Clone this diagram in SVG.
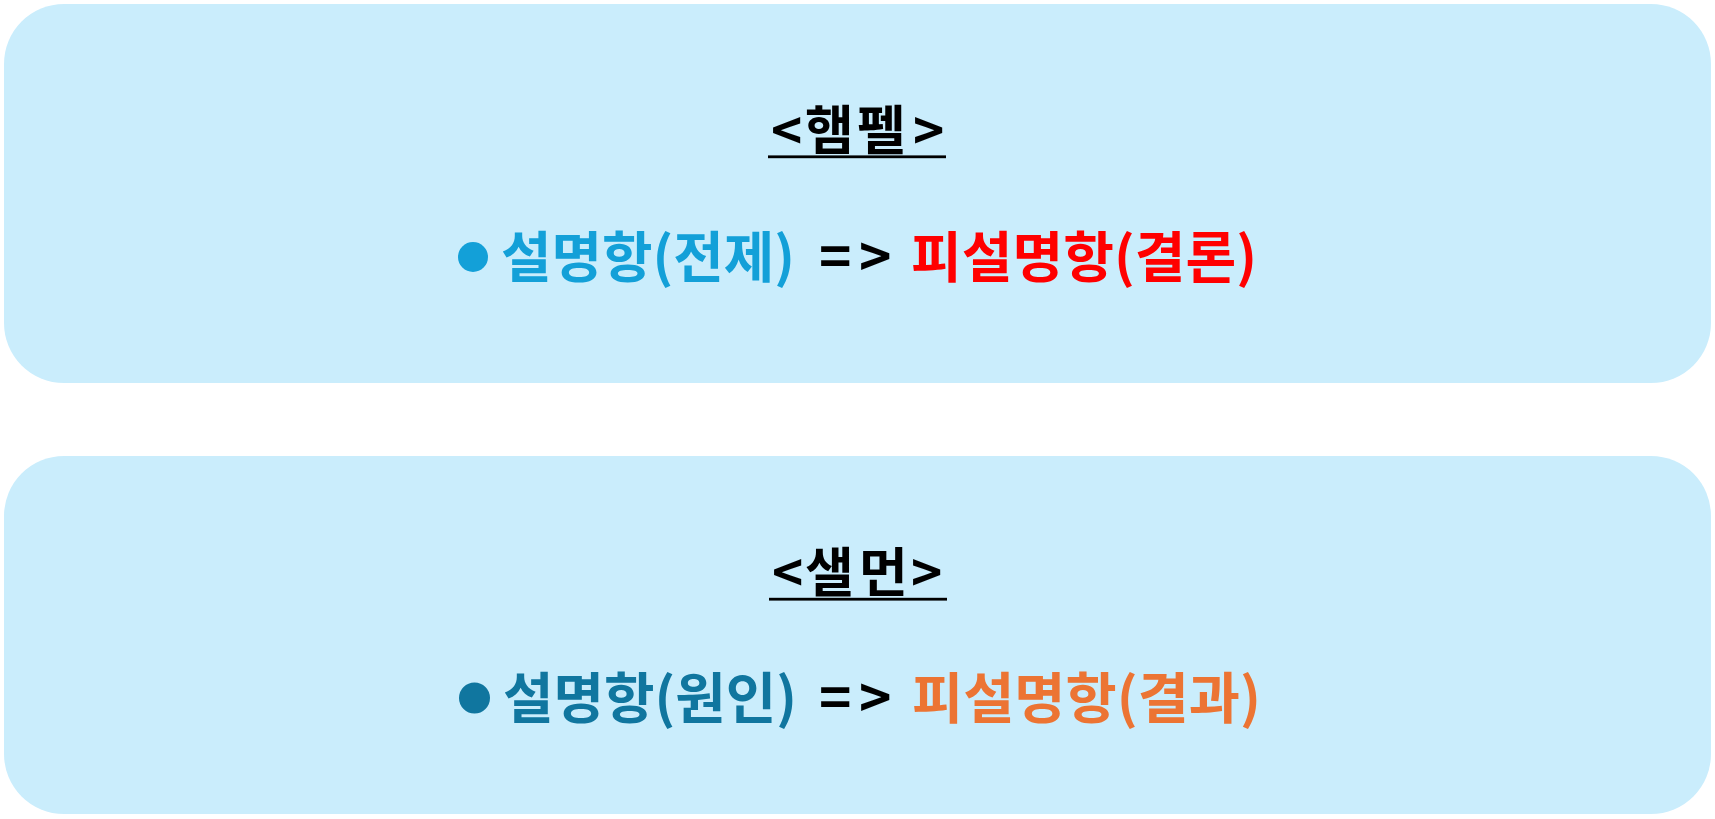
<svg xmlns="http://www.w3.org/2000/svg" width="1715" height="819" viewBox="0 0 1715 819">
<style>
.box{fill:#CAEDFC;}
.t{font-family:"Noto Sans CJK KR","Noto Sans",sans-serif;font-weight:bold;}
.title{font-size:53px;fill:#000;}
.main{font-size:55px;}
.blk{fill:#000;}
.b1{fill:#13A0D8;}
.b2{fill:#10769F;}
.red{fill:#FF0000;}
.org{fill:#EC7433;}
</style>
<rect width="1715" height="819" fill="#FFFFFF"/>
<g id="hempel">
<rect class="box" x="4" y="4" width="1707" height="379" rx="60" ry="60"/>
<text class="t title" x="771 805 857 913" y="150">&lt;햄펠&gt;</text>
<rect x="768" y="155.4" width="178" height="2.8" fill="#000"/>
<circle class="b1" cx="473" cy="257" r="15"/>
<text class="t main b1" x="501" y="277" textLength="294" lengthAdjust="spacingAndGlyphs">설명항(전제)</text>
<text class="t main blk" x="819 859" y="277">=&gt;</text>
<text class="t main red" x="911" y="277" textLength="346" lengthAdjust="spacingAndGlyphs">피설명항(결론)</text>
</g>
<g id="salmon">
<rect class="box" x="4" y="456" width="1707" height="358" rx="60" ry="60"/>
<text class="t title" x="772 805 859 911" y="592">&lt;샐먼&gt;</text>
<rect x="769" y="597.8" width="178" height="2.8" fill="#000"/>
<circle class="b2" cx="474.5" cy="698" r="15.5"/>
<text class="t main b2" x="503" y="718" textLength="294" lengthAdjust="spacingAndGlyphs">설명항(원인)</text>
<text class="t main blk" x="819 859" y="718">=&gt;</text>
<text class="t main org" x="912" y="718" textLength="349" lengthAdjust="spacingAndGlyphs">피설명항(결과)</text>
</g>
</svg>
